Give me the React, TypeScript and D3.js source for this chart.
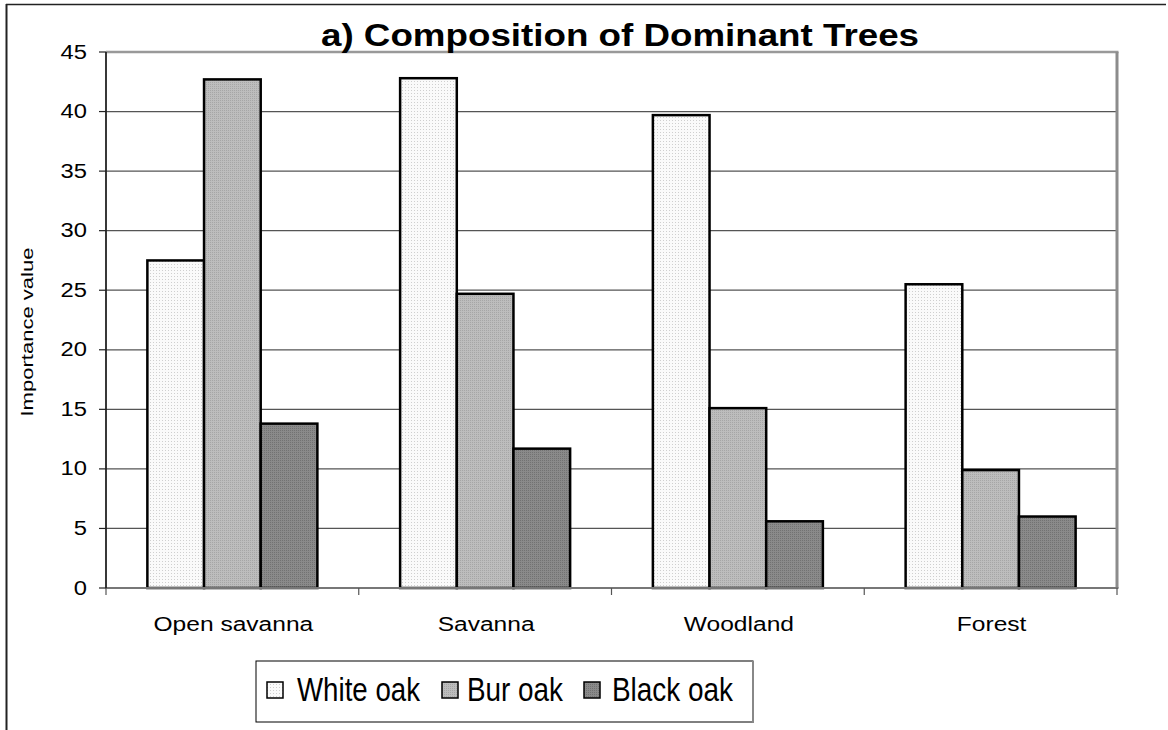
import React from "react";
import * as d3 from "d3";

const categories = ["Open savanna", "Savanna", "Woodland", "Forest"];
const seriesNames = ["White oak", "Bur oak", "Black oak"];
const whiteOak = [27.5, 42.8, 39.7, 25.5];
const burOak = [42.7, 24.7, 15.1, 9.9];
const blackOak = [13.8, 11.7, 5.6, 6.0];
const yTicks = [0, 5, 10, 15, 20, 25, 30, 35, 40, 45];
const legendTextLengths = [123, 96, 121];

const W = 1168;
const H = 730;
const X0 = 106;
const X1 = 1117;
const YT = 52;
const YB = 588;

const seriesValues = [whiteOak, burOak, blackOak];
const patternIds = ["pWhite", "pBur", "pBlack"];

export default function App() {
  const x = d3.scaleBand<string>().domain(categories).range([X0, X1]).paddingInner(0).paddingOuter(0);
  const bw = x.bandwidth();
  const xs = d3.scaleBand<string>().domain(seriesNames).range([0, bw]).paddingInner(0).paddingOuter(0.73);
  const y = d3.scaleLinear().domain([0, 45]).range([YB, YT]);

  const legendX = [267, 442, 584];
  const legendTextX = [297, 467, 612];

  return (
    <svg width={W} height={H} style={{ position: "absolute", left: 0, top: 0, background: "#fff" }}
      fontFamily="Liberation Sans, Arial, sans-serif">
      <defs>
        <pattern id="pWhite" width="3" height="3" patternUnits="userSpaceOnUse">
          <rect width="3" height="3" fill="#fafafa" />
          <rect width="1" height="1" fill="#cfcfcf" />
        </pattern>
        <pattern id="pBur" width="2" height="2" patternUnits="userSpaceOnUse">
          <rect width="2" height="2" fill="#bdbdbd" />
          <rect width="1" height="1" fill="#a6a6a6" />
        </pattern>
        <pattern id="pBlack" width="2" height="2" patternUnits="userSpaceOnUse">
          <rect width="2" height="2" fill="#8a8a8a" />
          <rect width="1" height="1" fill="#727272" />
        </pattern>
      </defs>
      <rect x={0} y={0} width={W} height={H} fill="#fff" />
      {/* outer frame */}
      <line x1={6} x2={1166} y1={4.5} y2={4.5} stroke="#222" strokeWidth={1.5} />
      <line x1={6.5} x2={6.5} y1={4} y2={H} stroke="#222" strokeWidth={2} />

      {/* gridlines */}
      {yTicks.filter((t) => t > 0 && t < 45).map((t) => (
        <line key={"g" + t} x1={X0} x2={X1} y1={y(t)} y2={y(t)} stroke="#555" strokeWidth={1.2} />
      ))}
      {/* plot top & right border */}
      <line x1={X0} x2={X1 + 1.5} y1={YT} y2={YT} stroke="#999" strokeWidth={2.5} />
      <line x1={X1} x2={X1} y1={YT} y2={YB} stroke="#8c8c8c" strokeWidth={3} />

      {/* bars */}
      {categories.map((c, ci) =>
        seriesNames.map((s, si) => {
          const v = seriesValues[si][ci];
          const bx = (x(c) as number) + (xs(s) as number);
          return (
            <rect key={c + s} x={bx} y={y(v)} width={xs.bandwidth()} height={YB - y(v)}
              fill={`url(#${patternIds[si]})`} stroke="#000" strokeWidth={2.5} />
          );
        })
      )}

      {/* axes */}
      <line x1={X0} x2={X1 + 1.5} y1={YB} y2={YB} stroke="#777" strokeWidth={2} />
      {d3.range(categories.length + 1).map((i) => {
        const xx = i < categories.length ? (x(categories[i]) as number) : X1;
        return <line key={"xt" + i} x1={xx} x2={xx} y1={YB} y2={YB + 7} stroke="#555" strokeWidth={1.2} />;
      })}
      <line x1={X0} x2={X0} y1={YT} y2={YB} stroke="#222" strokeWidth={1.8} />
      {yTicks.map((t) => (
        <line key={"yt" + t} x1={X0 - 7} x2={X0} y1={y(t)} y2={y(t)} stroke="#222" strokeWidth={1.2} />
      ))}
      {yTicks.map((t) => (
        <text key={"yl" + t} x={87} y={y(t) + 6.5} textAnchor="end" fontSize={20}
          textLength={String(t).length * 13.2} lengthAdjust="spacingAndGlyphs" fill="#000">
          {t}
        </text>
      ))}
      {categories.map((c) => (
        <text key={"cl" + c} transform={`translate(${(x(c) as number) + bw / 2 + 1},631) scale(1.17,1)`}
          textAnchor="middle" fontSize={21} fill="#000">
          {c}
        </text>
      ))}

      {/* y axis title */}
      <text transform="translate(33,332) rotate(-90)" textAnchor="middle" fontSize={17}
        textLength={169} lengthAdjust="spacingAndGlyphs" fill="#000">
        Importance value
      </text>

      {/* title */}
      <text x={620} y={46} textAnchor="middle" fontSize={32} fontWeight="bold"
        textLength={598} lengthAdjust="spacingAndGlyphs" fill="#000">
        a) Composition of Dominant Trees
      </text>

      {/* legend */}
      <rect x={256} y={661} width={497} height={61} fill="#fff" stroke="#000" strokeWidth={1} />
      <line x1={753} x2={753} y1={661} y2={723} stroke="#888" strokeWidth={2} />
      {seriesNames.map((s, i) => (
        <g key={"lg" + s}>
          <rect x={legendX[i]} y={682} width={16} height={16} fill={`url(#${patternIds[i]})`}
            stroke="#000" strokeWidth={1.5} />
          <text x={legendTextX[i]} y={701} fontSize={34} textLength={legendTextLengths[i]}
            lengthAdjust="spacingAndGlyphs" fill="#000">
            {s}
          </text>
        </g>
      ))}
    </svg>
  );
}
